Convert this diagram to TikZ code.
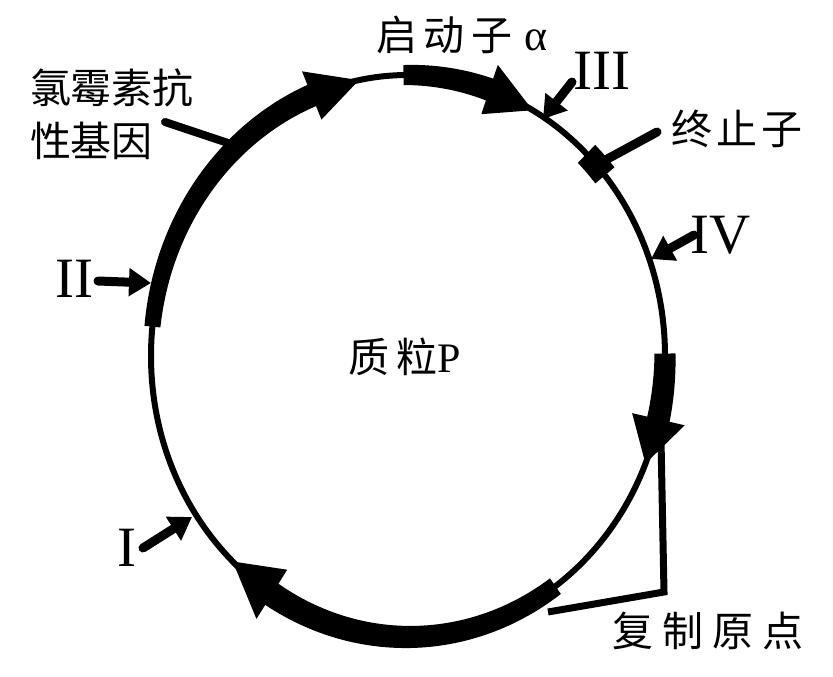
\documentclass[tikz,border=0pt]{standalone}
\usepackage{fontspec}
\setmainfont{Liberation Serif}
\newfontfamily\cjk{Noto Sans CJK SC}
\usetikzlibrary{arrows.meta}
% filled band along the ring, from angle #1 to #2, half width #3 -> #4
\newcommand\bandfill[4]{%
  \fill[band] plot[domain=#1:#2,samples=50]
    ({408+(257+#3+(#4-#3)*(\x-#1)/(#2-#1))*cos(\x)},{356+(281+#3+(#4-#3)*(\x-#1)/(#2-#1))*sin(\x)})
  -- plot[domain=#2:#1,samples=50]
    ({408+(257-#3-(#4-#3)*(\x-#1)/(#2-#1))*cos(\x)},{356+(281-#3-(#4-#3)*(\x-#1)/(#2-#1))*sin(\x)})
  -- cycle;}
\begin{document}
\begin{tikzpicture}[x=1pt,y=-1pt,
  ring/.style={line width=6pt},
  band/.style={fill=black},
  pointer/.style={line width=9pt,line cap=round,-{Triangle[length=22pt,width=27pt]}},
  leader/.style={line width=8pt,line cap=round},
  bracket/.style={line width=7pt,line join=miter},
  cn/.style={font=\cjk\fontsize{41}{53}\selectfont\addfontfeature{LetterSpace=#1}},
  cn/.default=0,
  rn/.style={font=\fontsize{57}{57}\selectfont},
  every node/.style={inner sep=0pt,outer sep=0pt}]
\useasboundingbox (0,0) rectangle (833,677);

% ring
\draw[ring] (408,356) ellipse [x radius=257pt, y radius=281pt];

% bands
\bandfill{186}{249}{8}{11.5}
\bandfill{269}{289}{10}{11.5}
\bandfill{314}{320}{12.5}{12.5}
\bandfill{359.5}{373.5}{10.5}{11.5}
\bandfill{55}{122.5}{9.5}{12.5}

% arrow heads on the ring
\coordinate (cmO) at ({408+283*cos(248)},{356+307*sin(248)});
\coordinate (cmI) at ({408+231*cos(248)},{356+255*sin(248)});
\coordinate (cmT) at ({408+257*cos(259)},{356+281*sin(259)});
\fill[band] (cmO) -- (cmT) -- (cmI) -- cycle;
\coordinate (prO) at ({408+283*cos(288.5)},{356+307*sin(288.5)});
\coordinate (prI) at ({408+231*cos(288.5)},{356+255*sin(288.5)});
\coordinate (prT) at ({408+257*cos(299)},{356+281*sin(299)});
\fill[band] (prO) -- (prT) -- (prI) -- cycle;
\coordinate (orO) at ({408+284*cos(373)},{356+308*sin(373)});
\coordinate (orI) at ({408+230*cos(373)},{356+254*sin(373)});
\coordinate (orT) at ({408+257*cos(382.5)},{356+281*sin(382.5)});
\fill[band] (orO) -- (orT) -- (orI) -- cycle;
\coordinate (boO) at ({408+286*cos(122)},{356+310*sin(122)});
\coordinate (boI) at ({408+228*cos(122)},{356+252*sin(122)});
\coordinate (boT) at ({408+257*cos(133)},{356+281*sin(133)});
\fill[band] (boO) -- (boT) -- (boI) -- cycle;

% labels
\node[cn=17] (prom) at (462,35) {启动子\hspace{12pt}{\rmfamily\fontsize{44}{44}\selectfont α}};
\node[rn] (lIII) at (602,71) {III};
\node[cn=10] (term) at (737,129) {终止子};
\node[rn] (lIV) at (721,235) {IV};
\node[cn=22] (ori) at (708,631) {复制原点};
\node[cn=17] (plasmid) at (405,357) {质粒{\rmfamily\fontsize{42}{42}\selectfont P}};
\node[rn] (lI) at (127,548) {I};
\node[rn] (lII) at (74,279) {II};
\node[cn, align=left] (cmlab) at (112,114) {氯霉素抗\\性基因};

% pointer ends
\coordinate (sIII) at (572,82);  \coordinate (tIII) at (543,119);
\coordinate (sIV) at (694,235);  \coordinate (tIV) at (651,259);
\coordinate (sI) at (143,548);   \coordinate (tI) at (192,517);
\coordinate (sII) at (98,281);   \coordinate (tII) at (151,283);
\draw[pointer] (sIII) -- (tIII);
\draw[pointer] (sIV) -- (tIV);
\draw[pointer] (sI) -- (tI);
\draw[pointer] (sII) -- (tII);

% leaders
\coordinate (tmA) at (600,163); \coordinate (tmB) at (657,132);
\draw[leader,line width=9pt] (tmA) -- (tmB);
\coordinate (cmA) at (165,122); \coordinate (cmB) at (228,143);
\draw[leader] (cmA) -- (cmB);

% origin bracket
\coordinate (brA) at (661,440);
\coordinate (brB) at (664,592);
\coordinate (brC) at (548,612);
\draw[bracket] (brA) -- (brB) -- (brC);
\end{tikzpicture}
\end{document}
